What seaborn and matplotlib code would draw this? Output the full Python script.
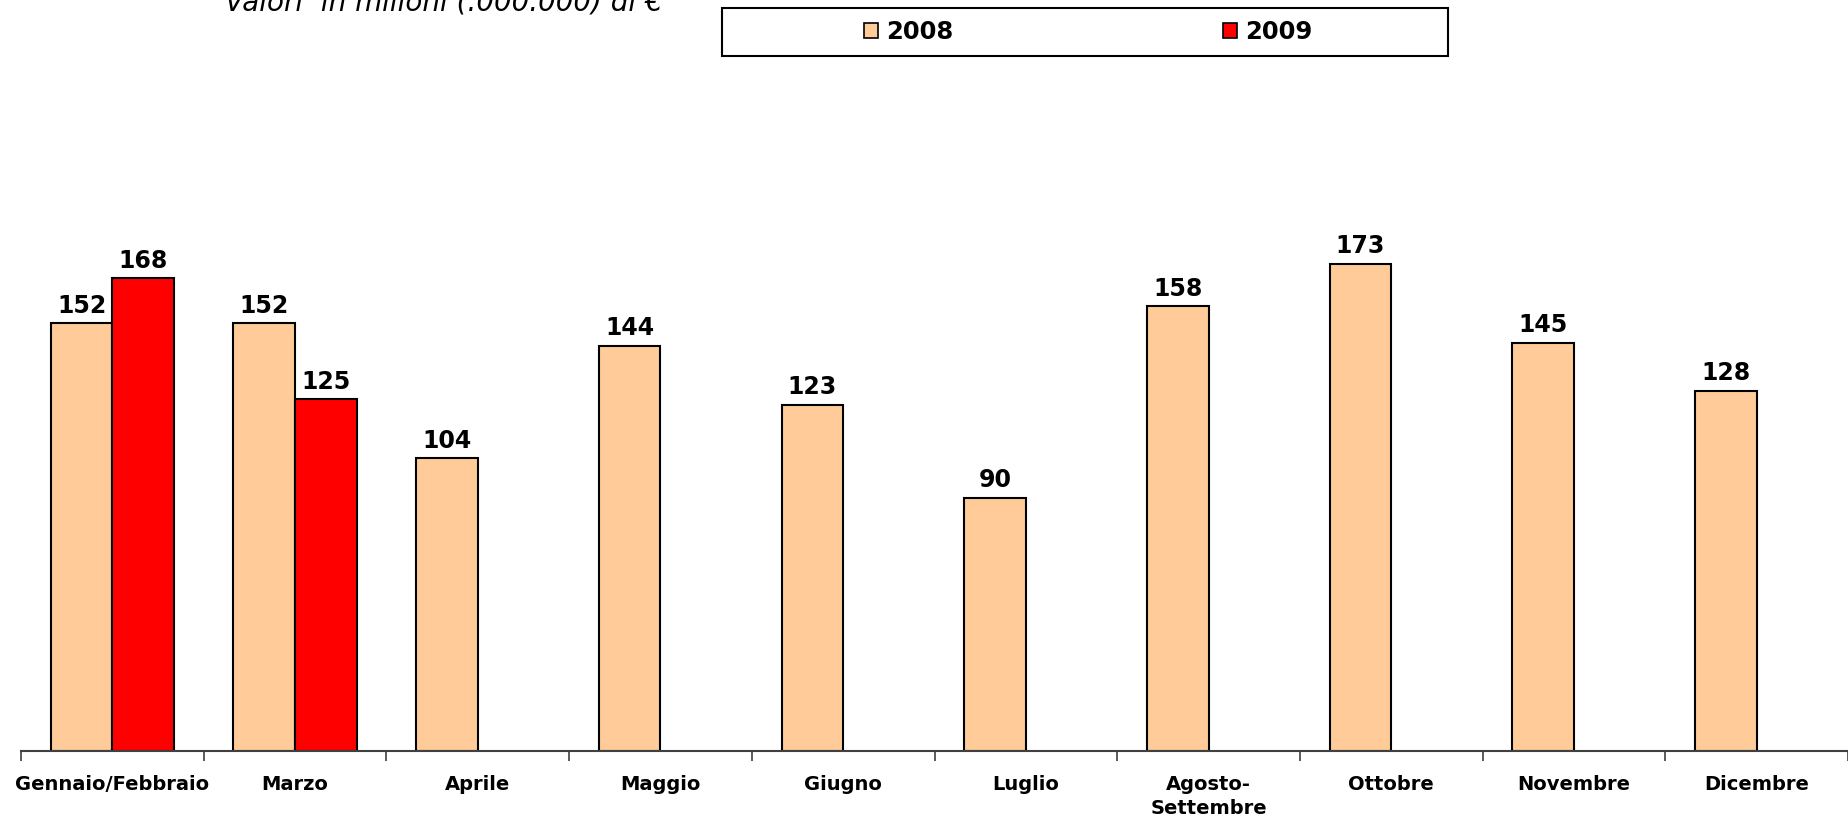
import numpy as np
import pandas as pd
import matplotlib
matplotlib.use('Agg')
import matplotlib.pyplot as plt
import seaborn as sns

mesi = ['Gennaio/Febbraio', 'Marzo', 'Aprile', 'Maggio', 'Giugno', 'Luglio',
        'Agosto-\nSettembre', 'Ottobre', 'Novembre', 'Dicembre']
valori_2008 = [152, 152, 104, 144, 123, 90, 158, 173, 145, 128]
valori_2009 = [168, 125]  # solo i primi due periodi
anni = ['2008', '2009']
colori = ['#FFCC99', '#FF0000']

sns.set_style('white')
plt.rcParams['font.family'] = ['DejaVu Sans']
plt.rcParams['text.color'] = 'black'
plt.rcParams['xtick.color'] = '#404040'
plt.rcParams['xtick.labelcolor'] = 'black'

righe = [(m, '2008', v) for m, v in zip(mesi, valori_2008)]
righe += [(m, '2009', v) for m, v in zip(mesi, valori_2009)]
df = pd.DataFrame(righe, columns=['mese', 'anno', 'valore'])

W, H = 1848, 826
fig = plt.figure(figsize=(W / 100, H / 100), dpi=100)
# area del grafico in pixel: asse x a y=751, inizio a x=21
ax = fig.add_axes([21 / W, 75 / H, (W - 21) / W, 563 / H])

sns.barplot(data=df, x='mese', y='valore', hue='anno', order=mesi,
            hue_order=anni, palette=colori, width=0.674, saturation=1,
            edgecolor='black', linewidth=1.5, ax=ax)

for cont in ax.containers:
    ax.bar_label(cont, fmt='%.0f', padding=4, fontsize=17, fontweight='bold',
                 color='black')

ax.set_ylim(0, 200)
ax.set_xlim(-0.5, -0.5 + (W - 21) / 184.7)
ax.set_xlabel('')
ax.set_ylabel('')
ax.set_yticks([])

for s in ['left', 'right', 'top']:
    ax.spines[s].set_visible(False)
ax.spines['bottom'].set_color('#404040')
ax.spines['bottom'].set_linewidth(1.5)

ax.set_xticks(range(len(mesi)))
ax.set_xticklabels(mesi, fontsize=14, fontweight='bold', linespacing=1.35)
ax.tick_params(axis='x', which='major', bottom=True, length=0, pad=17)
ax.set_xticks(np.arange(-0.5, len(mesi), 1.0), minor=True)
ax.tick_params(axis='x', which='minor', bottom=True, length=7, width=1.2,
               color='#404040', direction='out')

ax.legend_.remove()
handles = [plt.Rectangle((0, 0), 1, 1, facecolor=c, edgecolor='black', lw=1.2)
           for c in colori]
fig.legend(handles, anni, loc='center', ncol=2,
           bbox_to_anchor=((859 + 1317) / 2 / W, 1 - 32 / H),
           prop={'weight': 'bold', 'size': 17.5}, frameon=False,
           handlelength=0.58, handleheight=0.58, handletextpad=0.33,
           columnspacing=11.1, borderpad=0)
# riquadro della legenda
fig.patches.append(plt.Rectangle((722 / W, 1 - 56 / H), (1448 - 722) / W,
                                 48 / H, transform=fig.transFigure,
                                 facecolor='none', edgecolor='black', lw=1.5))

fig.text(225 / W, 1 - 10 / H, 'Valori  in milioni (.000.000) di €',
         fontsize=20, style='italic', va='baseline', ha='left')

fig.savefig('out.png', dpi=100)
